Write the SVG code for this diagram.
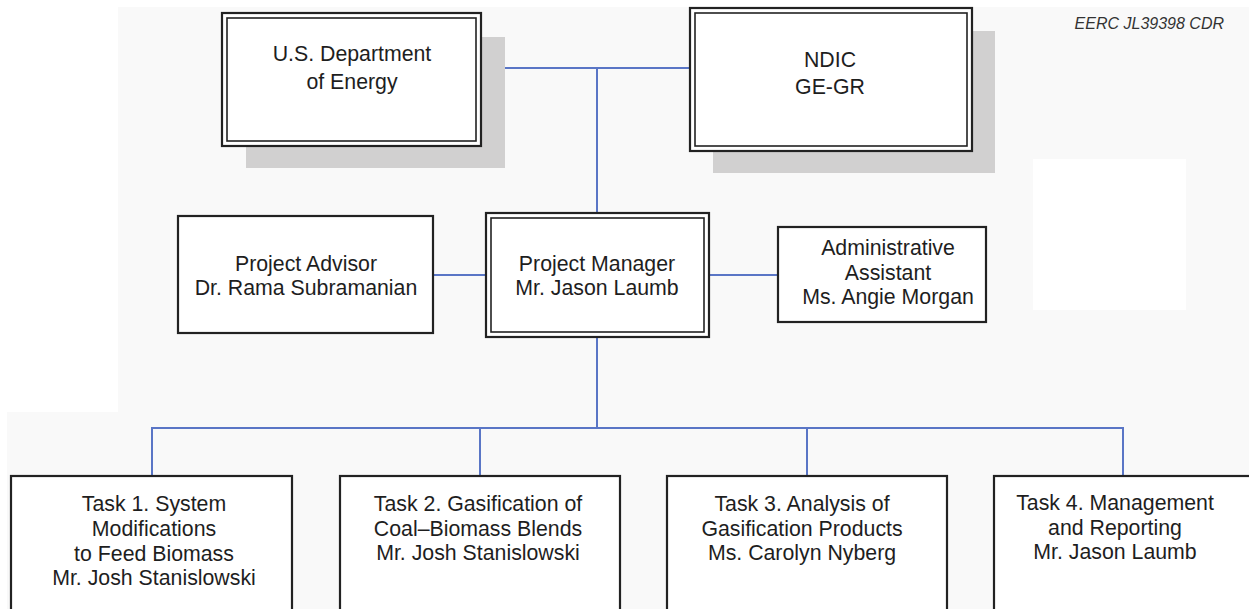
<svg xmlns="http://www.w3.org/2000/svg" width="1249" height="609" viewBox="0 0 1249 609">
<style>
.box{fill:#ffffff;stroke:#222222;stroke-width:2.2}
.inner{fill:none;stroke:#222222;stroke-width:1.6}
.shadow{fill:#d1d0d0}
.t{font-family:"Liberation Sans",Arial,sans-serif;font-size:21.3px;fill:#1e1e1e;text-anchor:middle}
.conn{fill:none;stroke:#5a76c6;stroke-width:2}
</style>
<rect x="0" y="0" width="1249" height="609" fill="#ffffff"/>
<polygon points="118,7 1249,7 1249,609 7,609 7,412 118,412" fill="#f9f9f9"/>
<rect x="1033" y="159" width="153" height="151" fill="#ffffff"/>
<text x="1224" y="29" font-family="Liberation Sans, Arial, sans-serif" font-size="16" font-style="italic" fill="#333333" text-anchor="end">EERC JL39398 CDR</text>
<g id="connectors">
<polyline class="conn" points="481,68 690,68"/>
<polyline class="conn" points="597,68 597,213"/>
<polyline class="conn" points="433,275 486,275"/>
<polyline class="conn" points="709,275 778,275"/>
<polyline class="conn" points="597,337 597,428"/>
<polyline class="conn" points="152,476 152,428 1123,428 1123,476"/>
<polyline class="conn" points="480,428 480,476"/>
<polyline class="conn" points="807,428 807,476"/>
</g>
<g id="doe">
<rect class="shadow" x="246" y="37" width="259" height="131"/>
<rect class="box" x="222" y="13" width="259" height="133"/>
<rect class="inner" x="227" y="18" width="249" height="123"/>
<text class="t" x="352" y="61">U.S. Department</text>
<text class="t" x="352" y="89">of Energy</text>
</g>
<g id="ndic">
<rect class="shadow" x="713" y="31" width="282" height="142"/>
<rect class="box" x="690" y="8" width="282" height="143"/>
<rect class="inner" x="695" y="13" width="272" height="133"/>
<text class="t" x="830" y="67">NDIC</text>
<text class="t" x="830" y="94">GE-GR</text>
</g>
<g id="advisor">
<rect class="box" x="178" y="216" width="255" height="117"/>
<text class="t" x="306" y="271">Project Advisor</text>
<text class="t" x="306" y="295">Dr. Rama Subramanian</text>
</g>
<g id="manager">
<rect class="box" x="486" y="213" width="223" height="124"/>
<rect class="inner" x="491" y="218" width="213" height="114"/>
<text class="t" x="597" y="271">Project Manager</text>
<text class="t" x="597" y="295">Mr. Jason Laumb</text>
</g>
<g id="admin">
<rect class="box" x="778" y="227" width="208" height="95"/>
<text class="t" x="888" y="255">Administrative</text>
<text class="t" x="888" y="280">Assistant</text>
<text class="t" x="888" y="304">Ms. Angie Morgan</text>
</g>
<g id="task1">
<rect class="box" x="11" y="476" width="281" height="150"/>
<text class="t" x="154" y="511">Task 1. System</text>
<text class="t" x="154" y="536">Modifications</text>
<text class="t" x="154" y="561">to Feed Biomass</text>
<text class="t" x="154" y="585">Mr. Josh Stanislowski</text>
</g>
<g id="task2">
<rect class="box" x="340" y="476" width="280" height="150"/>
<text class="t" x="478" y="511">Task 2. Gasification of</text>
<text class="t" x="478" y="536">Coal–Biomass Blends</text>
<text class="t" x="478" y="560">Mr. Josh Stanislowski</text>
</g>
<g id="task3">
<rect class="box" x="667" y="476" width="280" height="150"/>
<text class="t" x="802" y="511">Task 3. Analysis of</text>
<text class="t" x="802" y="536">Gasification Products</text>
<text class="t" x="802" y="560">Ms. Carolyn Nyberg</text>
</g>
<g id="task4">
<rect class="box" x="994" y="476" width="280" height="150"/>
<text class="t" x="1115" y="510">Task 4. Management</text>
<text class="t" x="1115" y="535">and Reporting</text>
<text class="t" x="1115" y="559">Mr. Jason Laumb</text>
</g>
</svg>
